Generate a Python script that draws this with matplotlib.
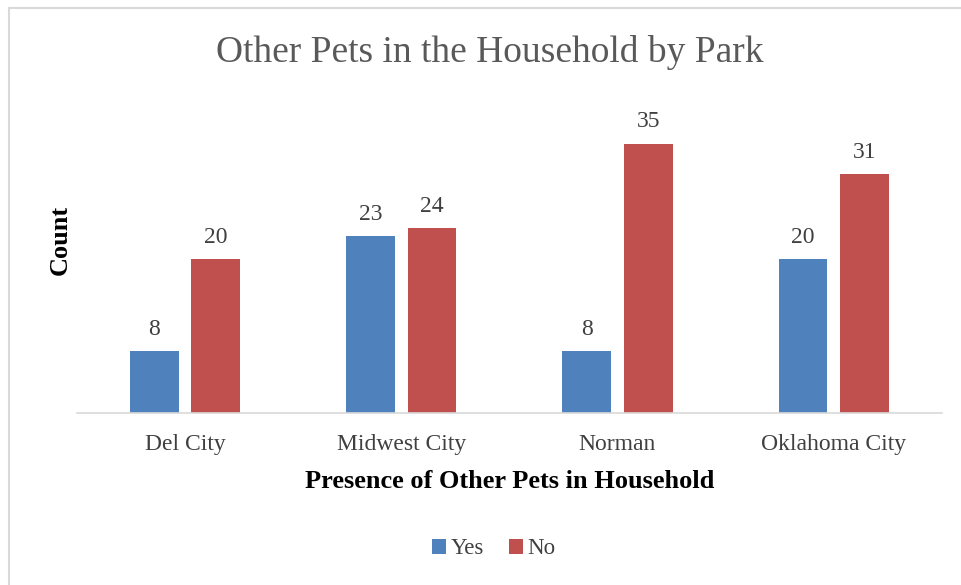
import matplotlib.pyplot as plt
import numpy as np
from matplotlib.patches import Rectangle

parks = ["Del City", "Midwest City", "Norman", "Oklahoma City"]
yes_counts = [8, 23, 8, 20]
no_counts = [20, 24, 35, 31]

plt.rcParams['font.family'] = ['Liberation Serif', 'DejaVu Serif']

fig = plt.figure(figsize=(9.61, 5.85), dpi=100)

# light frame round the chart area
fig.patches.append(Rectangle((9 / 961, -0.01), 1.0, 1 - 8 / 585 + 0.01,
                             transform=fig.transFigure, fill=False,
                             edgecolor='#D9D9D9', linewidth=1.5))

ax = fig.add_axes([0.080, 0.294, 0.900, 0.5265])

x = np.arange(len(parks))
w = 0.225
gap = 0.06
b1 = ax.bar(x - (w + gap) / 2, yes_counts, w, color='#4F81BD', label='Yes')
b2 = ax.bar(x + (w + gap) / 2, no_counts, w, color='#C0504D', label='No')

for bars in (b1, b2):
    for r in bars:
        ax.text(r.get_x() + r.get_width() / 2, r.get_height() + 1.45,
                f"{int(r.get_height())}", ha='center', va='bottom',
                fontsize=17, color='#404040')

ax.set_xlim(-0.5, len(parks) - 0.5)
ax.set_ylim(0, 40)
ax.set_yticks([])
ax.set_xticks(x)
ax.set_xticklabels(parks, fontsize=17, color='#404040')
ax.tick_params(axis='x', length=0, pad=15)
for s in ('top', 'right', 'left'):
    ax.spines[s].set_visible(False)
ax.spines['bottom'].set_color('#D9D9D9')
ax.spines['bottom'].set_linewidth(1.2)

fig.text(510 / 961, 1 - 482 / 585, "Presence of Other Pets in Household",
         ha='center', va='center', fontsize=19, fontweight='bold')
fig.text(60 / 961, 1 - 240 / 585, "Count", ha='center', va='center',
         rotation=90, fontsize=19, fontweight='bold')

fig.text(0.510, 1 - 52 / 585, "Other Pets in the Household by Park",
         ha='center', va='center', fontsize=27, color='#595959')

fig.legend(handles=[b1, b2], loc='center', bbox_to_anchor=(0.514, 1 - 549 / 585),
           ncol=2, frameon=False, fontsize=16.5, handlelength=0.6,
           handleheight=0.6, handletextpad=0.2, columnspacing=1.1,
           labelcolor='#404040')

fig.savefig("out.png", dpi=100)
